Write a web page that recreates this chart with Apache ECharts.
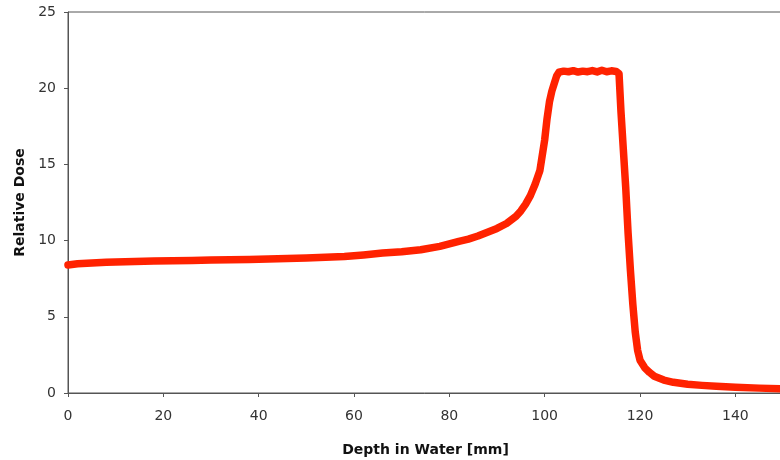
<!DOCTYPE html>
<html>
<head>
<meta charset="utf-8">
<script src="https://cdn.jsdelivr.net/npm/echarts@6/dist/echarts.min.js"></script>
<style>html,body{margin:0;padding:0;background:#fff}#c{width:780px;height:460px}</style>
</head>
<body>
<div id="c"></div>
<script>
const depth = [0,2,4,6,8,10,14,18,22,26,30,34,38,42,46,50,54,58,62,66,70,74,78,80,82,84,86,88,90,92,94,95,96,97,98,99,100,100.5,101,101.5,102,102.5,103,104,105,106,107,108,109,110,111,112,113,114,115,115.6,116,116.5,117,117.5,118,118.5,119,119.5,120,121,122,123,125,127,130,133,136,140,145,150];
const dose = [8.40,8.48,8.52,8.55,8.58,8.60,8.63,8.66,8.68,8.70,8.72,8.74,8.76,8.79,8.82,8.86,8.90,8.96,9.06,9.18,9.27,9.40,9.62,9.78,9.95,10.1,10.3,10.55,10.8,11.12,11.6,11.95,12.4,12.95,13.7,14.6,16.6,18.0,19.1,19.8,20.3,20.8,21.05,21.12,21.08,21.15,21.06,21.12,21.08,21.16,21.07,21.18,21.08,21.14,21.1,20.95,18.5,16.0,13.5,10.5,8.0,5.8,4.0,2.8,2.15,1.65,1.35,1.1,0.85,0.7,0.58,0.5,0.44,0.38,0.32,0.27];
const xTitle = 'Depth in Water [mm]';
const yTitle = 'Relative Dose';

const chart = echarts.init(document.getElementById('c'));
const font = 'DejaVu Sans, Verdana, sans-serif';
chart.setOption({
  animation: false,
  grid: {left: 68, right: -3, top: 12, bottom: 67, show: true, borderColor: '#555', borderWidth: 1, containLabel: false, outerBoundsMode: 'none'},
  xAxis: {
    type: 'value', min: 0, max: 150, interval: 20,
    name: xTitle, nameLocation: 'middle', nameGap: 50,
    nameTextStyle: {fontFamily: font, fontSize: 14, fontWeight: 'bold', color: '#111'},
    axisLine: {lineStyle: {color: '#555'}},
    axisTick: {show: true, length: 4, lineStyle: {color: '#555'}},
    axisLabel: {fontFamily: font, fontSize: 14, color: '#333', margin: 16, showMaxLabel: false},
    splitLine: {show: false}
  },
  yAxis: {
    type: 'value', min: 0, max: 25, interval: 5,
    name: yTitle, nameLocation: 'middle', nameGap: 41,
    nameTextStyle: {fontFamily: font, fontSize: 14, fontWeight: 'bold', color: '#111'},
    axisLine: {show: true, lineStyle: {color: '#555'}},
    axisTick: {show: true, length: 4, lineStyle: {color: '#555'}},
    axisLabel: {fontFamily: font, fontSize: 14, color: '#333', margin: 12},
    splitLine: {show: false}
  },
  series: [{
    type: 'line',
    data: depth.map((d, i) => [d, dose[i]]),
    showSymbol: false,
    symbol: 'none',
    smooth: false,
    lineStyle: {color: '#ff2200', width: 7.5, join: 'round', cap: 'round'}
  }]
});
</script>
</body>
</html>
